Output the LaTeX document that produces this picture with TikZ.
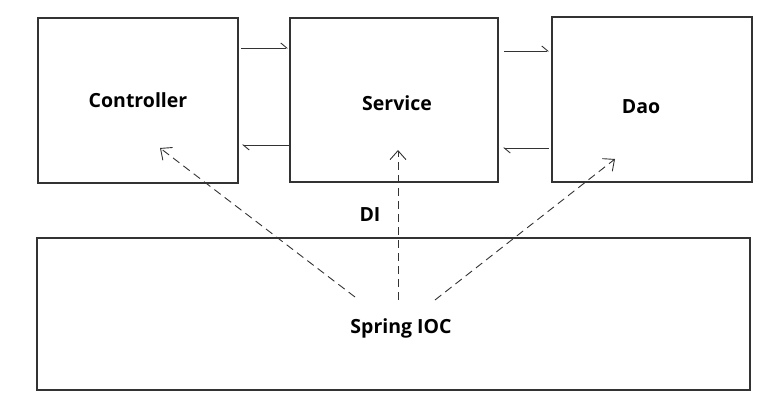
\documentclass[tikz,border=0pt]{standalone}
\usepackage{fontspec}
\setmainfont{Open Sans}
\usetikzlibrary{arrows.meta}
\begin{document}
\begin{tikzpicture}[x=1pt,y=-1pt,
  box/.style={draw=black!80,line width=1.1pt,inner sep=0pt},
  lbl/.style={font=\bfseries\fontsize{19.5}{22}\selectfont},
  flow/.style={draw=black!80,line width=0.9pt,-{Straight Barb[left,length=6pt,width=10pt]}},
  inj/.style={draw=black!80,line width=0.9pt,dash pattern=on 8pt off 5pt,-{Straight Barb[length=9pt,width=16pt]}}]
\useasboundingbox (0,0) rectangle (783,411);
\draw[box] (38,18) rectangle (238,183);
\draw[box] (290,18) rectangle (498,182);
\draw[box] (552,17) rectangle (752,182);
\draw[box] (37,238) rectangle (750,390);
\node[lbl] (ctrl) at (138,100) {Controller};
\node[lbl] (svc) at (397,103) {Service};
\node[lbl] (dao) at (641,107) {Dao};
\node[lbl] (ioc) at (401,328) {Spring IOC};
\node[lbl] (di) at (370,215) {DI};
\coordinate (a1s) at (241,48); \coordinate (a1e) at (288,48);
\coordinate (a2s) at (289,145); \coordinate (a2e) at (242,145);
\coordinate (a3s) at (504,51); \coordinate (a3e) at (549,51);
\coordinate (a4s) at (549,148); \coordinate (a4e) at (503,148);
\draw[flow] (a1s) -- (a1e);
\draw[flow] (a2s) -- (a2e);
\draw[flow] (a3s) -- (a3e);
\draw[flow] (a4s) -- (a4e);
\coordinate (d1s) at (355,297); \coordinate (d1e) at (160,148);
\coordinate (d2s) at (398,300); \coordinate (d2e) at (398,150);
\coordinate (d3s) at (435,300); \coordinate (d3e) at (615,159);
\draw[inj] (d1s) -- (d1e);
\draw[inj] (d2s) -- (d2e);
\draw[inj] (d3s) -- (d3e);
\end{tikzpicture}
\end{document}
